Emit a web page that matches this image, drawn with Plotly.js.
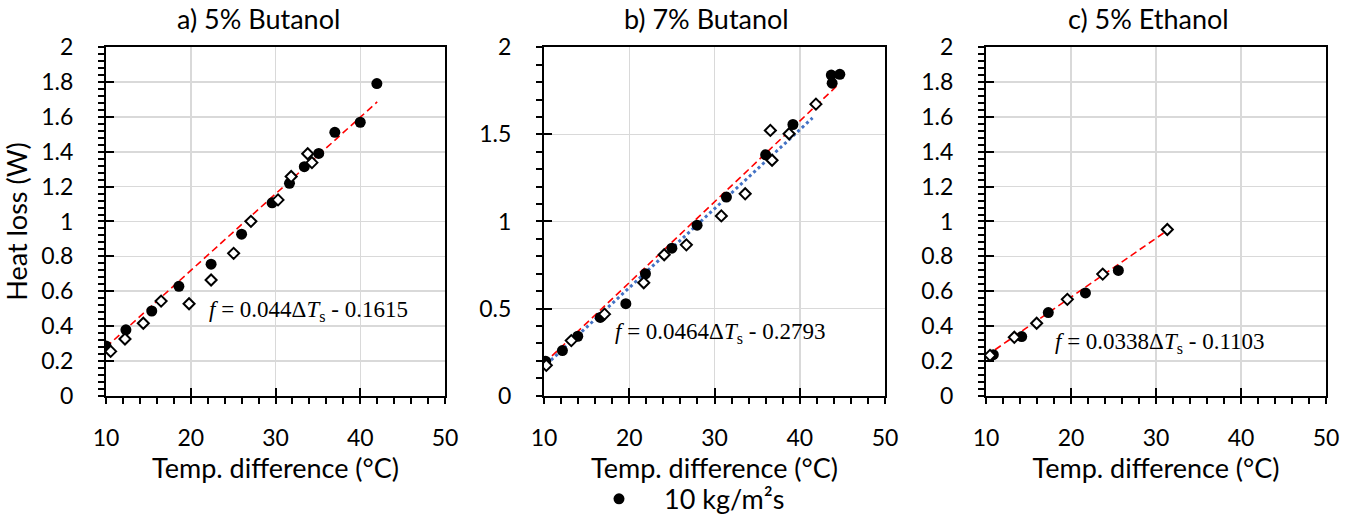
<!DOCTYPE html>
<html>
<head>
<meta charset="utf-8">
<script src="https://cdn.plot.ly/plotly-3.0.1.min.js"></script>
<style>html,body{margin:0;padding:0;background:#fff;}#chart{width:1365px;height:524px;}</style>
</head>
<body>
<div id="chart"></div>
<script>
// ---------- data ----------
const panelTitles = ['a) 5% Butanol', 'b) 7% Butanol', 'c) 5% Ethanol'];
const xTitle = 'Temp. difference (°C)';
const yTitle = 'Heat loss (W)';
const legendName = '10 kg/m²s';

// a) 5% Butanol
const aCircleX = [10.0, 12.35, 15.4, 18.6, 22.4, 26.0, 29.6, 31.65, 33.4, 35.1, 37.0, 40.0, 41.96];
const aCircleY = [0.285, 0.378, 0.486, 0.628, 0.755, 0.927, 1.107, 1.219, 1.315, 1.391, 1.512, 1.570, 1.792];
const aDiamondX = [10.55, 12.24, 14.4, 16.5, 19.8, 22.4, 25.06, 27.1, 30.3, 31.85, 33.8, 34.3];
const aDiamondY = [0.254, 0.325, 0.416, 0.543, 0.528, 0.664, 0.817, 1.001, 1.124, 1.258, 1.389, 1.338];

// b) 7% Butanol
const bCircleX = [10.2, 12.16, 13.96, 16.6, 19.6, 21.9, 25.0, 27.96, 31.4, 36.0, 39.2, 43.7, 44.7, 43.8];
const bCircleY = [0.197, 0.259, 0.341, 0.449, 0.528, 0.700, 0.847, 0.979, 1.140, 1.383, 1.557, 1.841, 1.845, 1.794];
const bDiamondX = [10.27, 13.2, 17.1, 21.7, 24.1, 26.7, 30.8, 33.6, 36.55, 36.75, 38.75, 41.9];
const bDiamondY = [0.174, 0.316, 0.468, 0.648, 0.809, 0.866, 1.032, 1.159, 1.523, 1.352, 1.504, 1.674];
const bBlueX = [10.3, 41.5];
const bBlueY = [0.180, 1.595];

// c) 5% Ethanol
const cCircleX = [10.86, 14.2, 17.33, 21.7, 25.57];
const cCircleY = [0.235, 0.339, 0.477, 0.590, 0.719];
const cDiamondX = [10.47, 13.33, 15.96, 19.57, 23.73, 31.33];
const cDiamondY = [0.231, 0.335, 0.416, 0.553, 0.698, 0.954];

// fitted trendlines f = slope*dT - offset
const fitSlope = [0.044, 0.0464, 0.0338];
const fitOffset = [0.1615, 0.2793, 0.1103];
const fitStart = [10, 10, 10];
const fitEnd = [42.0, 44.5, 31.3];
const eqX = [21.9, 18.1, 17.9];
const eqY = [0.487, 0.361, 0.300];

const xTicks = [10, 20, 30, 40, 50];
const yDtick = [0.2, 0.5, 0.2];
const yMinor = [0.04, 0.1, 0.04];

// ---------- layout helpers ----------
const W = 1365, H = 524;
const px = v => v / W;
const py = v => 1 - v / H;
const xDom = [[106, 445], [544, 885], [986, 1326]];
const yDom = [py(401), py(48)];
const FONT = 'Lato, "Open Sans", sans-serif';

const circles = [[aCircleX, aCircleY], [bCircleX, bCircleY], [cCircleX, cCircleY]];
const diamonds = [[aDiamondX, aDiamondY], [bDiamondX, bDiamondY], [cDiamondX, cDiamondY]];

const traces = [];
const layout = {
  width: W, height: H,
  margin: {l: 0, r: 0, t: 0, b: 0},
  paper_bgcolor: '#fff', plot_bgcolor: '#fff',
  font: {family: FONT, color: '#000', size: 23},
  showlegend: true,
  legend: {
    orientation: 'h', x: px(574), xanchor: 'left', y: py(506), yanchor: 'middle',
    font: {family: FONT, size: 27, color: '#000'}, itemwidth: 80, bgcolor: 'rgba(0,0,0,0)'
  },
  annotations: []
};

for (let i = 0; i < 3; i++) {
  const xa = i === 0 ? 'x' : 'x' + (i + 1);
  const ya = i === 0 ? 'y' : 'y' + (i + 1);
  const xo = 'x' + (i + 4), yo = 'y' + (i + 4);
  const xKey = i === 0 ? 'xaxis' : 'xaxis' + (i + 1);
  const yKey = i === 0 ? 'yaxis' : 'yaxis' + (i + 1);
  const dom = [px(xDom[i][0]), px(xDom[i][1])];

  layout[xKey] = {
    domain: dom, anchor: ya, range: [10, 50], tickmode: 'array', tickvals: xTicks,
    ticks: 'outside', ticklen: 6, tickwidth: 2, tickcolor: '#000',
    minor: {dtick: 2, tick0: 10, ticks: 'outside', ticklen: 6, tickwidth: 2, tickcolor: '#000', showgrid: false},
    showline: true, linewidth: 2, linecolor: '#000', mirror: true,
    showgrid: true, gridcolor: '#d9d9d9', gridwidth: 1.5, zeroline: false,
    tickfont: {family: FONT, size: 23, color: '#000'}, ticklabelstandoff: 15,
    title: {text: xTitle, font: {family: FONT, size: 27, color: '#000'}, standoff: 1},
    automargin: false, fixedrange: true
  };
  layout[yKey] = {
    domain: yDom, anchor: xa, range: [0, 2], dtick: yDtick[i], tick0: 0,
    ticks: 'outside', ticklen: 6, tickwidth: 2, tickcolor: '#000',
    minor: {dtick: yMinor[i], tick0: 0, ticks: 'outside', ticklen: 6, tickwidth: 2, tickcolor: '#000', showgrid: false},
    showline: true, linewidth: 2, linecolor: '#000', mirror: true,
    showgrid: true, gridcolor: '#d9d9d9', gridwidth: 1.5, zeroline: false,
    tickfont: {family: FONT, size: 23, color: '#000'}, ticklabelstandoff: 20,
    automargin: false, fixedrange: true
  };
  if (i === 0) {
    layout[yKey].title = {text: yTitle, font: {family: FONT, size: 27, color: '#000'}, standoff: 8};
  }
  // overlay axes giving the inner half of the crossing major ticks
  layout['xaxis' + (i + 4)] = {
    domain: dom, anchor: yo, overlaying: xa, range: [10, 50], tickmode: 'array', tickvals: xTicks,
    ticks: 'inside', ticklen: 8, tickwidth: 2, tickcolor: '#000', showticklabels: false,
    showgrid: false, zeroline: false, showline: false, automargin: false, fixedrange: true
  };
  layout['yaxis' + (i + 4)] = {
    domain: yDom, anchor: xo, overlaying: ya, range: [0, 2], dtick: yDtick[i], tick0: 0,
    ticks: 'inside', ticklen: 8, tickwidth: 2, tickcolor: '#000', showticklabels: false,
    showgrid: false, zeroline: false, showline: false, automargin: false, fixedrange: true
  };

  // trendline from fitted equation
  const fx = [fitStart[i], fitEnd[i]];
  const fy = fx.map(v => fitSlope[i] * v - fitOffset[i]);
  traces.push({x: fx, y: fy, xaxis: xa, yaxis: ya, mode: 'lines', showlegend: false, hoverinfo: 'skip',
    line: {color: '#ff0000', width: 1.6, dash: '7px,4px'}});
  if (i === 1) {
    traces.push({x: bBlueX, y: bBlueY, xaxis: xa, yaxis: ya, mode: 'lines', showlegend: false, hoverinfo: 'skip',
      line: {color: '#4472c4', width: 3, dash: 'dot'}});
  }
  traces.push({x: circles[i][0], y: circles[i][1], xaxis: xa, yaxis: ya, mode: 'markers',
    name: legendName, legendgroup: 'c', showlegend: i === 0,
    marker: {symbol: 'circle', size: 11, color: '#000'}});
  traces.push({x: diamonds[i][0], y: diamonds[i][1], xaxis: xa, yaxis: ya, mode: 'markers',
    name: 'diamond', showlegend: false,
    marker: {symbol: 'diamond', size: 8.5, color: '#fff', line: {color: '#000', width: 2}}});
  traces.push({x: [null], y: [null], xaxis: xo, yaxis: yo, mode: 'markers', showlegend: false, hoverinfo: 'skip'});

  layout.annotations.push({
    xref: xa, yref: ya, x: eqX[i], y: eqY[i], xanchor: 'left', yanchor: 'middle', showarrow: false,
    text: '<i>f</i> = ' + fitSlope[i] + 'Δ<i>T</i><sub>s</sub> - ' + fitOffset[i],
    font: {family: '"Liberation Serif", "DejaVu Serif", serif', size: 23, color: '#000'}
  });
}

const titleX = [258, 706, 1148];
for (let i = 0; i < 3; i++) {
  layout.annotations.push({
    xref: 'paper', yref: 'paper', x: px(titleX[i]), y: py(19), xanchor: 'center', yanchor: 'middle',
    showarrow: false, text: panelTitles[i], font: {family: FONT, size: 27, color: '#000'}
  });
}

Plotly.newPlot('chart', traces, layout, {staticPlot: true, displayModeBar: false});
</script>
</body>
</html>
